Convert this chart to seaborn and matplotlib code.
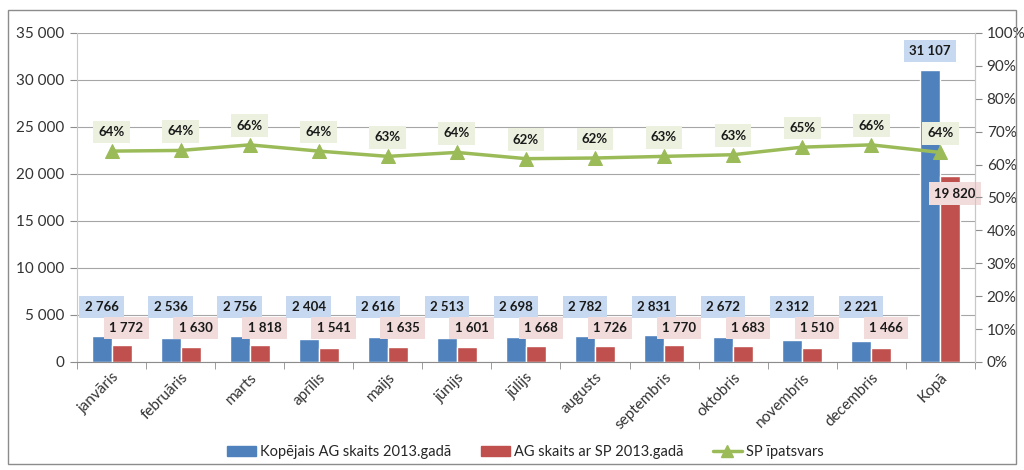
import numpy as np
import pandas as pd
import matplotlib
matplotlib.use('Agg')
import matplotlib.pyplot as plt
import seaborn as sns
from matplotlib.ticker import FuncFormatter, PercentFormatter, FixedLocator
from matplotlib.patches import Patch, Rectangle
from matplotlib.lines import Line2D

# data
months = ['janvāris', 'februāris', 'marts', 'aprīlis', 'maijs', 'jūnijs', 'jūlijs',
          'augusts', 'septembris', 'oktobris', 'novembris', 'decembris', 'Kopā']
total_ag = [2766, 2536, 2756, 2404, 2616, 2513, 2698, 2782, 2831, 2672, 2312, 2221, 31107]
ag_sp = [1772, 1630, 1818, 1541, 1635, 1601, 1668, 1726, 1770, 1683, 1510, 1466, 19820]
sp_share = [0.641, 0.643, 0.660, 0.641, 0.625, 0.637, 0.618, 0.620, 0.625, 0.630, 0.653, 0.660, 0.637]
share_labels = ['64%', '64%', '66%', '64%', '63%', '64%', '62%', '62%', '63%', '63%', '65%', '66%', '64%']

s1 = 'Kopējais AG skaits 2013.gadā'
s2 = 'AG skaits ar SP 2013.gadā'
s3 = 'SP īpatsvars'

BLUE = '#4F81BD'
RED = '#C0504D'
GREEN = '#9BBB59'

df = pd.DataFrame({
    'month': months * 2,
    'value': total_ag + ag_sp,
    'series': [s1] * len(months) + [s2] * len(months),
})

sns.set_style('white')
plt.rcParams['font.family'] = ['Lato', 'DejaVu Sans']

fig = plt.figure(figsize=(10.24, 4.7), dpi=100)
ax = fig.add_axes([0.0752, 0.2298, 0.8768, 0.7])

sns.barplot(data=df, x='month', y='value', hue='series', order=months,
            palette=[BLUE, RED], width=0.58, ax=ax, legend=False, saturation=1)

ax.set_xlim(-0.5, len(months) - 0.5)
ax.set_ylim(0, 35000)
ax.set_yticks(np.arange(0, 35001, 5000))
ax.yaxis.set_major_formatter(FuncFormatter(lambda v, p: f'{int(v):,}'.replace(',', ' ')))
ax.grid(axis='y', color='#a6a6a6', linewidth=0.8)
ax.set_axisbelow(True)
ax.set_xlabel('')
ax.set_ylabel('')
ax.spines['top'].set_visible(False)
ax.spines['left'].set_color('#c8c8c8')
ax.spines['bottom'].set_color('#8c8c8c')
ax.spines['right'].set_color('#c8c8c8')
ax.tick_params(axis='y', labelsize=11, length=5, color='#8c8c8c', left=True, pad=4,
               labelcolor='#333333')
ax.set_xticks(range(len(months)))
ax.set_xticklabels(months, rotation=45, ha='right', rotation_mode='anchor', fontsize=11,
                   color='#333333')
ax.tick_params(axis='x', length=0, pad=6)
ax.xaxis.set_minor_locator(FixedLocator(np.arange(-0.5, len(months), 1.0)))
ax.tick_params(axis='x', which='minor', length=5, color='#8c8c8c', bottom=True)

# bar labels
x = np.arange(len(months))
off = 0.58 / 4
for i in x:
    if i < len(months) - 1:
        y1, y2 = 5850, 3600
    else:
        y1, y2 = total_ag[i] + 2000, ag_sp[i] - 1900
    ax.text(i - off, y1, f'{total_ag[i]:,}'.replace(',', ' '), ha='center', va='center',
            fontsize=9.5, fontweight='bold', color='#1a1a1a',
            bbox=dict(boxstyle='square,pad=0.4', fc='#C6D9F1', ec='none'))
    ax.text(i + off + 0.07, y2, f'{ag_sp[i]:,}'.replace(',', ' '), ha='center', va='center',
            fontsize=9.5, fontweight='bold', color='#1a1a1a',
            bbox=dict(boxstyle='square,pad=0.4', fc='#F2DCDB', ec='none'))

# share line
ax2 = ax.twinx()
sns.lineplot(x=x, y=sp_share, ax=ax2, color=GREEN, linewidth=2.5, marker='^',
             markersize=10, markeredgecolor=GREEN, legend=False)
ax2.set_ylim(0, 1)
ax2.set_yticks(np.arange(0, 1.01, 0.1))
ax2.yaxis.set_major_formatter(PercentFormatter(1.0, decimals=0))
ax2.tick_params(axis='y', labelsize=11, length=5, color='#8c8c8c', right=True,
                labelcolor='#333333')
for side in ['top', 'left', 'bottom']:
    ax2.spines[side].set_visible(False)
ax2.spines['right'].set_color('#c8c8c8')
ax2.set_ylabel('')
for i in x:
    ax2.text(i, sp_share[i] + 0.058, share_labels[i], ha='center', va='center',
             fontsize=9.5, fontweight='bold', color='#1a1a1a',
             bbox=dict(boxstyle='square,pad=0.4', fc='#EBF1DE', ec='none'))

# legend
handles = [Patch(color=BLUE, label=s1), Patch(color=RED, label=s2),
           Line2D([0], [0], color=GREEN, linewidth=2.5, marker='^', markersize=8, label=s3)]
fig.legend(handles=handles, loc='center', bbox_to_anchor=(0.513, 0.038), ncol=3,
           frameon=False, fontsize=10.5, handlelength=2.0, handleheight=0.6,
           columnspacing=2.0, handletextpad=0.3)

# outer border
fig.patches.append(Rectangle((8 / 1024, 6 / 470), 1008 / 1024, 454 / 470,
                             transform=fig.transFigure, fill=False, ec='#8c8c8c', lw=1))

fig.savefig('out.png', dpi=100)
